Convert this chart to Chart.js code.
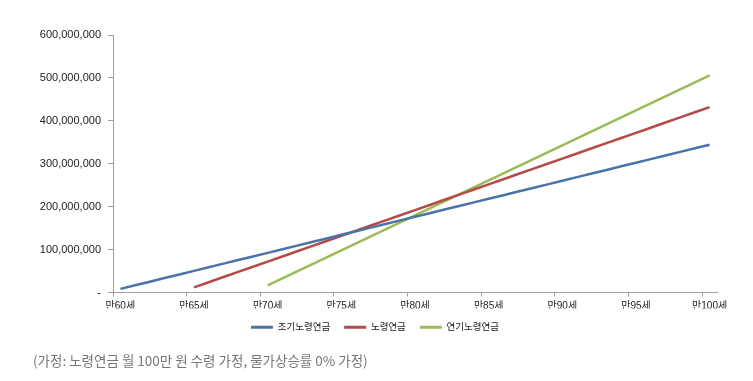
<!DOCTYPE html>
<html>
<head>
<meta charset="utf-8">
<script src="https://cdn.jsdelivr.net/npm/chart.js@4"></script>
<style>
  html, body { margin: 0; padding: 0; background: #fff; }
  #wrap { width: 753px; height: 381px; position: relative; }
</style>
</head>
<body>
<div id="wrap"><canvas id="c" width="753" height="381"></canvas></div>
<script>
// Ages (categories) and tick labels
const ages = [60,61,62,63,64,65,66,67,68,69,70,71,72,73,74,75,76,77,78,79,80,81,82,83,84,85,86,87,88,89,90,91,92,93,94,95,96,97,98,99,100];
const ageLabels = ages.map(a => '만' + a + '세');
const seriesNames = ['조기노령연금', '노령연금', '연기노령연금'];
// Cumulative pension received, in millions of won
const earlyPension = [8.4,16.8,25.2,33.6,42.0,50.4,58.8,67.2,75.6,84.0,92.4,100.8,109.2,117.6,126.0,134.4,142.8,151.2,159.6,168.0,176.4,184.8,193.2,201.6,210.0,218.4,226.8,235.2,243.6,252.0,260.4,268.8,277.2,285.6,294.0,302.4,310.8,319.2,327.6,336.0,344.4];
const normalPension = [null,null,null,null,null,12,24,36,48,60,72,84,96,108,120,132,144,156,168,180,192,204,216,228,240,252,264,276,288,300,312,324,336,348,360,372,384,396,408,420,432];
const deferredPension = [null,null,null,null,null,null,null,null,null,null,16.32,32.64,48.96,65.28,81.6,97.92,114.24,130.56,146.88,163.2,179.52,195.84,212.16,228.48,244.8,261.12,277.44,293.76,310.08,326.4,342.72,359.04,375.36,391.68,408.0,424.32,440.64,456.96,473.28,489.6,505.92];
const yTicks = [0,100000000,200000000,300000000,400000000,500000000,600000000];
const footnote = '(가정: 노령연금 월 100만 원 수령 가정, 물가상승률 0% 가정)';

const colors = ['#4A74A8', '#B54B48', '#9BBB59'];
const toWon = arr => arr.map(v => v === null ? null : v * 1000000);
const seriesData = [earlyPension, normalPension, deferredPension];

const FONT = "'Liberation Sans', 'Noto Sans CJK KR', sans-serif";

new Chart(document.getElementById('c'), {
  type: 'line',
  data: {
    labels: ageLabels,
    datasets: seriesData.map((d, i) => ({
      label: seriesNames[i],
      data: toWon(d),
      borderColor: colors[i],
      backgroundColor: colors[i],
      borderWidth: 2.5,
      pointRadius: 0,
      pointHoverRadius: 0,
      tension: 0,
      spanGaps: false
    }))
  },
  options: {
    responsive: false,
    animation: false,
    layout: { padding: { left: 33, right: 36, top: 35, bottom: 0 } },
    scales: {
      x: {
        type: 'category',
        offset: true,
        grid: {
          offset: true,
          drawOnChartArea: false,
          drawTicks: true,
          tickLength: 4,
          color: ctx => (ctx.index % 5 === 0 && ctx.index < ages.length) ? '#A0A0A0' : 'rgba(0,0,0,0)'
        },
        border: { color: '#A0A0A0', width: 1 },
        ticks: {
          autoSkip: false,
          maxRotation: 0,
          minRotation: 0,
          padding: 4,
          color: '#222',
          font: { family: FONT, size: 10 },
          callback: function(value, index) { return index % 5 === 0 ? ageLabels[index] : ''; }
        },
        afterFit: s => { s.height = 16; }
      },
      y: {
        min: 0,
        max: 600000000,
        afterBuildTicks: s => { s.ticks = yTicks.map(v => ({ value: v })); },
        grid: {
          drawOnChartArea: false,
          drawTicks: true,
          tickLength: 5,
          color: '#A0A0A0'
        },
        border: { color: '#A0A0A0', width: 1 },
        ticks: {
          padding: 7,
          color: '#222',
          font: { family: FONT, size: 11 },
          callback: v => v === 0 ? '-' : Number(v).toLocaleString('en-US')
        },
        afterFit: s => { s.width = 80; }
      }
    },
    plugins: {
      legend: {
        position: 'bottom',
        labels: {
          boxWidth: 22,
          boxHeight: 3,
          padding: 14,
          color: '#222',
          font: { family: FONT, size: 9.5 },
          generateLabels: chart => Chart.defaults.plugins.legend.labels.generateLabels(chart).map(l => Object.assign(l, { lineWidth: 0 }))
        }
      },
      subtitle: {
        display: true,
        position: 'bottom',
        align: 'start',
        text: footnote,
        color: '#777',
        font: { family: "'Noto Sans CJK KR', sans-serif", size: 13.5, weight: 'normal' },
        padding: { top: 10.9, bottom: 11.9 }
      },
      title: { display: false },
      tooltip: { enabled: false }
    }
  }
});
</script>
</body>
</html>
